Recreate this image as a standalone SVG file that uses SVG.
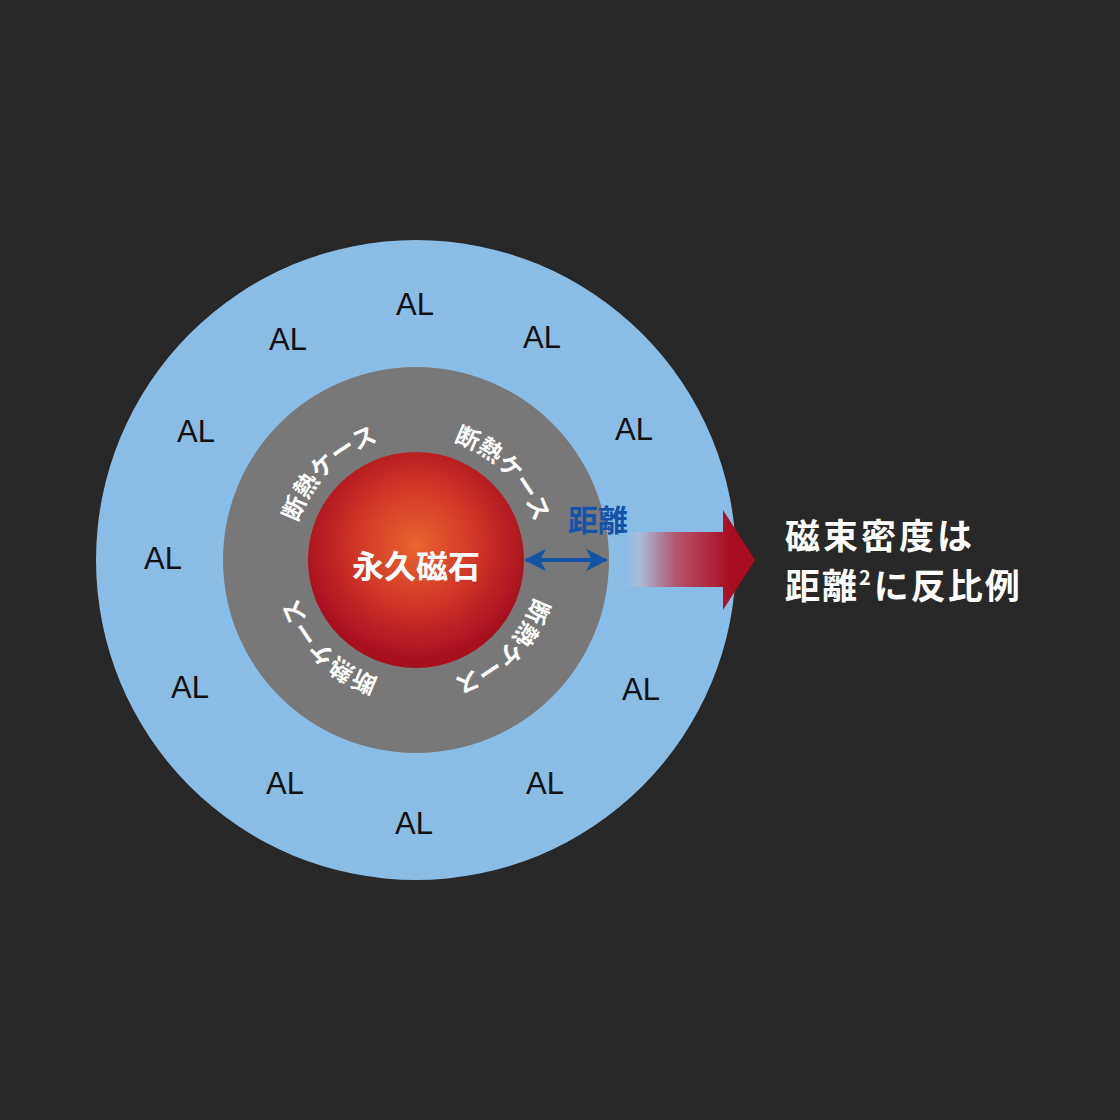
<svg xmlns="http://www.w3.org/2000/svg" xmlns:xlink="http://www.w3.org/1999/xlink" width="1120" height="1120" viewBox="0 0 1120 1120">
  <defs>
    <radialGradient id="magGrad" cx="416" cy="545" r="115" gradientUnits="userSpaceOnUse">
      <stop offset="0" stop-color="#ea6430"/>
      <stop offset="0.55" stop-color="#cf3426"/>
      <stop offset="1" stop-color="#a70f1f"/>
    </radialGradient>
    <linearGradient id="arrowGrad" x1="622" y1="0" x2="730" y2="0" gradientUnits="userSpaceOnUse">
      <stop offset="0" stop-color="#8abde6" stop-opacity="0"/>
      <stop offset="0.15" stop-color="#a9bfdc"/>
      <stop offset="0.5" stop-color="#b3566f"/>
      <stop offset="1" stop-color="#a80d22"/>
    </linearGradient>
    <path id="ring" d="M 292,560 A 124,124 0 1 1 540,560 A 124,124 0 1 1 292,560"/>
    <marker id="bluehead" viewBox="0 0 10 10" refX="9" refY="5" markerWidth="5.5" markerHeight="5.5" orient="auto-start-reverse" markerUnits="strokeWidth">
      <path d="M0,0 L10,5 L0,10 L2.5,5 Z" fill="#1553a6"/>
    </marker>
    <style>
      .al { font-family: "Liberation Sans", "Noto Sans", sans-serif; font-size: 31px; fill: #111; text-anchor: middle; }
      .case { font-family: "Noto Sans CJK JP", sans-serif; font-size: 24px; font-weight: bold; fill: #fff; }
      .jp { font-family: "Noto Sans CJK JP", sans-serif; font-weight: bold; }
    </style>
  </defs>
  <rect width="1120" height="1120" fill="#282828"/>

  <g id="aluminium">
    <circle cx="416" cy="560" r="320" fill="#8abde6"/>
    <text class="al" x="415" y="315">AL</text>
    <text class="al" x="288" y="350">AL</text>
    <text class="al" x="542" y="348">AL</text>
    <text class="al" x="196" y="442">AL</text>
    <text class="al" x="634" y="440">AL</text>
    <text class="al" x="163" y="569">AL</text>
    <text class="al" x="190" y="698">AL</text>
    <text class="al" x="641" y="700">AL</text>
    <text class="al" x="285" y="794">AL</text>
    <text class="al" x="545" y="794">AL</text>
    <text class="al" x="414" y="834">AL</text>
  </g>

  <g id="insulation-case">
    <circle cx="416" cy="560" r="193" fill="#787878"/>
    <text class="case" text-anchor="middle"><textPath xlink:href="#ring" href="#ring" startOffset="12.5%">断熱ケース</textPath></text>
    <text class="case" text-anchor="middle"><textPath xlink:href="#ring" href="#ring" startOffset="37.5%">断熱ケース</textPath></text>
    <text class="case" text-anchor="middle"><textPath xlink:href="#ring" href="#ring" startOffset="62.5%">断熱ケース</textPath></text>
    <text class="case" text-anchor="middle"><textPath xlink:href="#ring" href="#ring" startOffset="87.5%">断熱ケース</textPath></text>
  </g>

  <g id="magnet">
    <circle cx="416" cy="560" r="108" fill="url(#magGrad)"/>
    <text class="jp" x="416" y="578" font-size="32" fill="#fff" text-anchor="middle">永久磁石</text>
  </g>

  <g id="connectors">
    <line x1="526" y1="560" x2="606" y2="560" stroke="#1553a6" stroke-width="4" marker-start="url(#bluehead)" marker-end="url(#bluehead)"/>
    <text class="jp" x="598" y="531" font-size="30" fill="#1553a6" text-anchor="middle">距離</text>
    <path d="M622,532 L723,532 L723,510 L755,560 L723,610 L723,587 L622,587 Z" fill="url(#arrowGrad)"/>
  </g>

  <g id="conclusion">
    <text class="jp" x="785" y="549" font-size="35" fill="#fff" letter-spacing="3">磁束密度は</text>
    <text class="jp" x="785" y="599" font-size="35" fill="#fff" letter-spacing="2">距離<tspan font-size="20" dy="-14" letter-spacing="0">2</tspan><tspan dy="14" dx="3">に反比例</tspan></text>
  </g>
</svg>
